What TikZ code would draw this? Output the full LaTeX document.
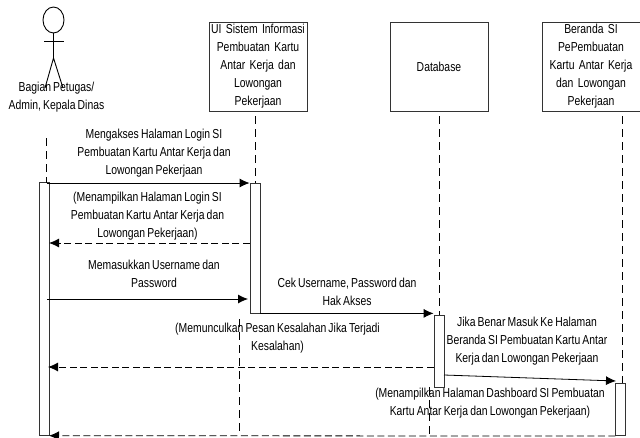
\documentclass[tikz,border=0pt]{standalone}
\usepackage{fontspec}
\setmainfont[FakeStretch=0.8,WordSpace=0.75]{Liberation Sans}
\usetikzlibrary{shapes,arrows,arrows.meta}
\tikzstyle{block} = [rectangle, draw=black!80, line width=0.8pt, text width=96pt, inner sep=0pt, align=center, minimum width=98pt, minimum height=89pt]
\tikzstyle{act} = [rectangle, draw=black!80, line width=0.8pt, minimum width=10pt, inner sep=0pt]
\tikzstyle{line} = [draw, line width=0.8pt, -{Latex[length=10pt,width=9pt]}]
\tikzstyle{back} = [line, dash pattern=on 7pt off 3.5pt]
\tikzstyle{life} = [draw, line width=0.6pt, dash pattern=on 8pt off 5pt]
\tikzstyle{actor} = [draw, line width=0.9pt]
\tikzstyle{msg} = [align=center, inner sep=0pt]
\begin{document}
\begin{tikzpicture}[x=1pt, y=-1pt, node distance = 181pt, font=\fontsize{13}{18}\selectfont]
      \useasboundingbox (0,0) rectangle (640,437);
      % header boxes
      \node [block] (ui) at (258,66.5) {UI Sistem Informasi\\Pembuatan Kartu\\Antar Kerja dan\\Lowongan\\Pekerjaan};
      \node [block, right of=ui] (db) {Database};
      \node [block, right of=db, node distance=152pt] (home) {Beranda SI\\PePembuatan\\Kartu Antar Kerja\\dan Lowongan\\Pekerjaan};

      % actor
      \node [ellipse, actor, minimum width=21pt, minimum height=26pt, inner sep=0pt] (head) at (53.5,20) {};
      \coordinate (hip) at (53.5,58);
      \coordinate (arml) at (44,41);
      \coordinate (armr) at (64,41);
      \coordinate (legl) at (45,88);
      \coordinate (legr) at (63,88);
      \path [actor] (head.south) -- (hip);
      \path [actor] (arml) -- (armr);
      \path [actor] (legl) -- (hip) -- (legr);
      \node [msg] (officer) at (56.5,97) {Bagian Petugas/\\Admin, Kepala Dinas};

      % activation bars
      \node [act, minimum height=253pt] (act_officer) at (44,309.3) {};
      \node [act, minimum height=130pt] (act_ui) at (255,248) {};
      \node [act, minimum height=72pt] (act_db) at (439,351) {};
      \node [act, minimum height=52.7pt] (act_home) at (620.7,409.3) {};

      % lifelines
      \coordinate (top_officer) at (46,138);
      \coordinate (end_officer) at (46,183);
      \coordinate (top_ui) at (255,116);
      \coordinate (top_db) at (439,116);
      \coordinate (top_home) at (622,116);
      \coordinate (low_ui) at (239,319);
      \coordinate (end_ui) at (239,435);
      \coordinate (end_db) at (429,437);
      \path [life] (top_officer) -- (end_officer);
      \path [life] (top_ui) -- (act_ui.north);
      \path [life] (top_db) -- (act_db.north);
      \path [life] (top_home) -- (top_home |- act_home.north);
      \path [life] (low_ui) -- (end_ui);
      \path [life] (act_db.south -| end_db) -- (end_db);

      % messages
      \coordinate (m1) at (47,183);
      \coordinate (m2) at (49,243);
      \coordinate (m3) at (47,299);
      \coordinate (m5) at (48,367);
      \coordinate (m6a) at (444,375);
      \coordinate (m6b) at (616,381);
      \coordinate (m7) at (49,435.7);
      \path [line] (m1) -- (m1 -| act_ui.west);
      \path [back] (m2 -| act_ui.west) -- (m2);
      \path [line] (m3) -- (248,299);
      \path [line] (act_ui.south east) -- (act_db.north west |- act_ui.south);
      \path [back] (m5 -| act_db.west) -- (m5);
      \path [line] (m6a) -- (m6b);
      \path [back] (act_home.south west) -- (m7);

      \node [msg] (l1) at (154,153) {Mengakses Halaman Login SI\\Pembuatan Kartu Antar Kerja dan\\Lowongan Pekerjaan};
      \node [msg] (l2) at (147.5,216) {(Menampilkan Halaman Login SI\\Pembuatan Kartu Antar Kerja dan\\Lowongan Pekerjaan)};
      \node [msg] (l3) at (154,274) {Memasukkan Username dan\\Password};
      \node [msg] (l4) at (347,292) {Cek Username, Password dan\\Hak Akses};
      \node [msg] (l5) at (277.5,338) {(Memunculkan Pesan Kesalahan Jika Terjadi\\Kesalahan)};
      \node [msg] (l6) at (527,341) {Jika Benar Masuk Ke Halaman\\Beranda SI Pembuatan Kartu Antar\\Kerja dan Lowongan Pekerjaan};
      \node [msg] (l7) at (490,403) {(Menampilkan Halaman Dashboard SI Pembuatan\\Kartu Antar Kerja dan Lowongan Pekerjaan)};
    \end{tikzpicture}
\end{document}
